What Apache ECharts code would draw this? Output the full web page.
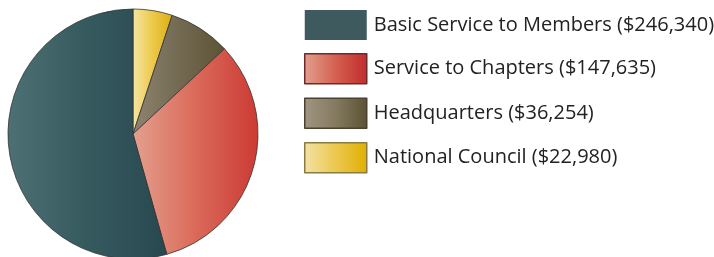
<!DOCTYPE html>
<html>
<head>
<meta charset="utf-8">
<script src="https://cdn.jsdelivr.net/npm/echarts@6/dist/echarts.min.js"></script>
<style>
  html, body { margin: 0; padding: 0; background: #fff; }
  #main { width: 714px; height: 257px; }
</style>
</head>
<body>
<div id="main"></div>
<script>
// 数据
var names = ['National Council', 'Headquarters', 'Service to Chapters', 'Basic Service to Members'];
var values = [22980, 36254, 147635, 246340];
var legendOrder = ['Basic Service to Members', 'Service to Chapters', 'Headquarters', 'National Council'];

function grad(stops) {
  return new echarts.graphic.LinearGradient(0, 0, 1, 0, stops.map(function (c, i) {
    return { offset: i / (stops.length - 1), color: c };
  }));
}

// 扇区配色（左浅右深）
var sliceColors = {
  'National Council': grad(['#f6e6a4', '#ecc94a', '#dcae10']),
  'Headquarters': grad(['#8e8470', '#736a52', '#5c5436']),
  'Service to Chapters': grad(['#e4a08e', '#da6a5a', '#cc3a34']),
  'Basic Service to Members': grad(['#4d7074', '#355a5e', '#284850'])
};

// 图例色块
var legendStyles = {
  'Basic Service to Members': { color: '#3e5a5e', borderColor: '#3e5a5e', borderWidth: 0 },
  'Service to Chapters': { color: grad(['#e2a090', '#d46050', '#c02c2c']), borderColor: '#6e2a2a', borderWidth: 1.5 },
  'Headquarters': { color: grad(['#a09582', '#857a60', '#5a5232']), borderColor: '#4a4230', borderWidth: 1.5 },
  'National Council': { color: grad(['#f4e2a6', '#ecc850', '#e0b000']), borderColor: '#8a7a44', borderWidth: 1.5 }
};

var chart = echarts.init(document.getElementById('main'), null, { renderer: 'canvas' });

var pieData = names.map(function (n, i) {
  return {
    name: n,
    value: values[i],
    itemStyle: { color: sliceColors[n] }
  };
});

var option = {
  animation: false,
  legend: {
    orient: 'vertical',
    left: 299,
    top: 5,
    itemWidth: 62,
    itemHeight: 30,
    itemGap: 13,
    icon: 'rect',
    selectedMode: false,
    data: legendOrder.map(function (n) {
      return { name: n, itemStyle: legendStyles[n] };
    }),
    formatter: function (name) {
      var v = values[names.indexOf(name)];
      return name + ' ($' + v.toLocaleString('en-US') + ')';
    },
    textStyle: {
      fontFamily: 'Open Sans',
      fontSize: 20,
      color: '#222',
      padding: [0, 0, 0, 2]
    }
  },
  series: [
    {
      type: 'pie',
      center: [133, 134],
      radius: 125,
      startAngle: 90,
      clockwise: true,
      label: { show: false },
      labelLine: { show: false },
      emphasis: { disabled: true },
      itemStyle: { borderColor: '#333', borderWidth: 0.8 },
      data: pieData
    }
  ]
};

chart.setOption(option);
</script>
</body>
</html>
